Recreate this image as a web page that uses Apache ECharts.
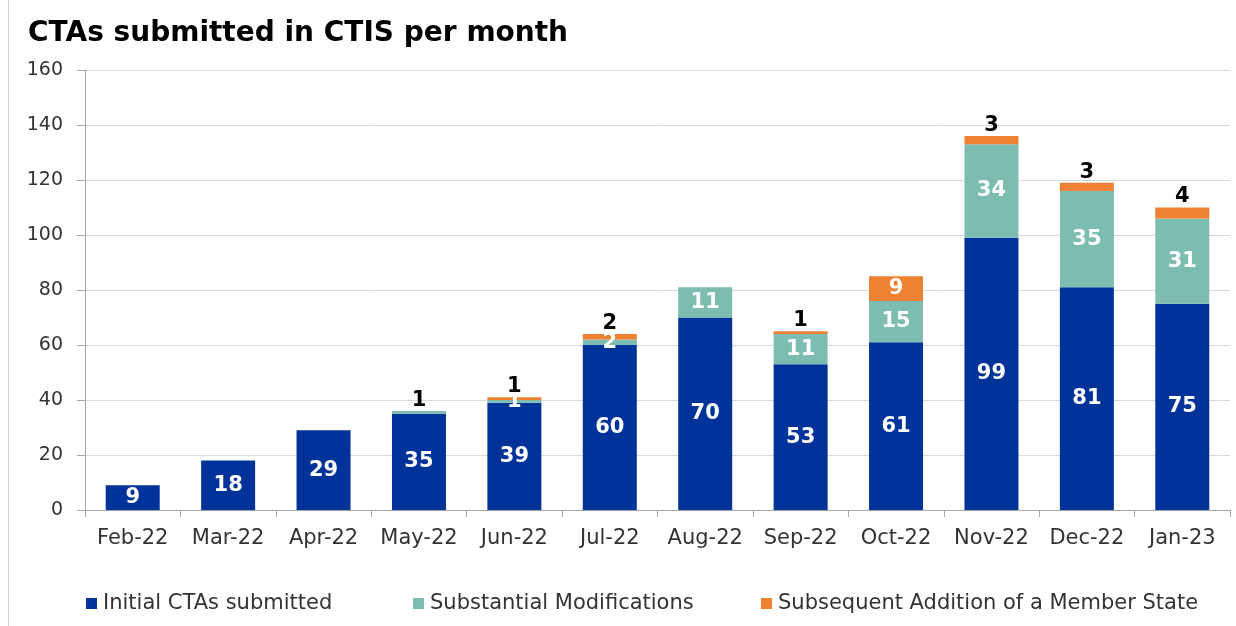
<!DOCTYPE html>
<html>
<head>
<meta charset="utf-8">
<script src="https://cdn.jsdelivr.net/npm/echarts@6/dist/echarts.min.js"></script>
<style>html,body{margin:0;padding:0;background:#fff;}#c{width:1236px;height:626px;}</style>
</head>
<body>
<div id="c"></div>
<script>
const categories = ['Feb-22','Mar-22','Apr-22','May-22','Jun-22','Jul-22','Aug-22','Sep-22','Oct-22','Nov-22','Dec-22','Jan-23'];
const initialCTAs = [9,18,29,35,39,60,70,53,61,99,81,75];
const substantialMods = [0,0,0,1,1,2,11,11,15,34,35,31];
const subsequentAddition = [0,0,0,0,1,2,0,1,9,3,3,4];
const yTicks = {min:0, max:160, interval:20};

const FONT = 'DejaVu Sans';
const C_BLUE = '#003399', C_TEAL = '#7dbcb1', C_ORANGE = '#ef8132';

function labelled(values, rule) {
  return values.map((v, i) => {
    if (!v) return {value: v, label: {show: false}};
    return {value: v, label: rule(v, i)};
  });
}
const inside = {show: true, position: 'inside', color: '#fff', fontWeight: 'bold', fontSize: 21, fontFamily: FONT};
const above = {show: true, position: 'top', color: '#000', fontWeight: 'bold', fontSize: 21, fontFamily: FONT, distance: 0};

const chart = echarts.init(document.getElementById('c'), null, {renderer: 'canvas'});
chart.setOption({
  animation: false,
  backgroundColor: '#fff',
  title: {text: 'CTAs submitted in CTIS per month', left: 23, top: 15,
    textStyle: {fontFamily: FONT, fontWeight: 'bold', fontSize: 28, color: '#000'}},
  grid: {left: 85, right: 6, top: 70, bottom: 116},
  legend: [
    {data: ['Initial CTAs submitted'], left: 81, top: 588},
    {data: ['Substantial Modifications'], left: 408, top: 588},
    {data: ['Subsequent Addition of a Member State'], left: 756, top: 588}
  ].map(l => Object.assign(l, {icon: 'rect', itemWidth: 11, itemHeight: 11, itemGap: 4,
    textStyle: {fontFamily: FONT, fontSize: 21, color: '#333', padding: [0, 0, 0, 1]}})),
  xAxis: {
    type: 'category', data: categories,
    axisLine: {lineStyle: {color: '#a6a6a6'}},
    axisTick: {show: true, alignWithLabel: false, length: 7, lineStyle: {color: '#a6a6a6'}},
    axisLabel: {interval: 0, fontFamily: FONT, fontSize: 21, color: '#333', margin: 18}
  },
  yAxis: {
    type: 'value', min: yTicks.min, max: yTicks.max, interval: yTicks.interval,
    axisLine: {show: true, lineStyle: {color: '#a6a6a6'}},
    axisTick: {show: true, length: 8, lineStyle: {color: '#a6a6a6'}},
    axisLabel: {fontFamily: FONT, fontSize: 19, color: '#333', margin: 22},
    splitLine: {lineStyle: {color: '#d9d9d9'}}
  },
  series: [
    {name: 'Initial CTAs submitted', type: 'bar', stack: 's', barWidth: 54,
      itemStyle: {color: C_BLUE}, data: labelled(initialCTAs, () => inside)},
    {name: 'Substantial Modifications', type: 'bar', stack: 's',
      itemStyle: {color: C_TEAL},
      data: labelled(substantialMods, (v, i) => (v < 2 && !subsequentAddition[i]) ? above : inside)},
    {name: 'Subsequent Addition of a Member State', type: 'bar', stack: 's',
      itemStyle: {color: C_ORANGE},
      data: labelled(subsequentAddition, v => v >= 5 ? inside : above)}
  ],
  graphic: [{type: 'line', shape: {x1: 8.5, y1: 0, x2: 8.5, y2: 626}, style: {stroke: '#d0d0d0', lineWidth: 1}}]
});
</script>
</body>
</html>
